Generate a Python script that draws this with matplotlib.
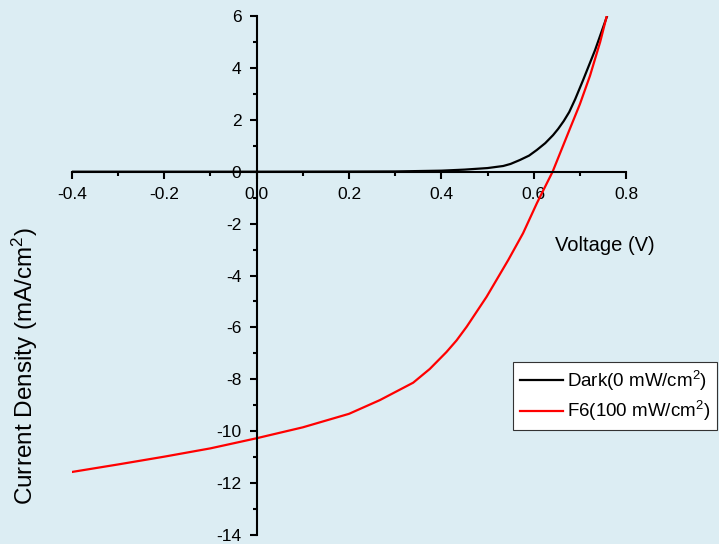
import numpy as np
import matplotlib
matplotlib.use("Agg")
import matplotlib.pyplot as plt
from matplotlib.ticker import MultipleLocator

plt.rcParams["font.family"] = ["Liberation Sans", "DejaVu Sans"]
plt.rcParams["mathtext.fontset"] = "custom"
plt.rcParams["mathtext.rm"] = "Liberation Sans"
plt.rcParams["mathtext.it"] = "Liberation Sans"

# Dark J-V curve
dark_v = [-0.4, -0.2, 0.0, 0.2, 0.3, 0.4, 0.45, 0.5, 0.534, 0.55, 0.57, 0.59,
          0.607, 0.625, 0.642, 0.653, 0.665, 0.677, 0.69, 0.707, 0.733, 0.759]
dark_j = [0.0, 0.0, 0.0, 0.005, 0.01, 0.04, 0.08, 0.14, 0.22, 0.3, 0.45, 0.62,
          0.84, 1.1, 1.41, 1.65, 1.95, 2.3, 2.8, 3.53, 4.69, 6.0]

# Illuminated curve (F6, 100 mW/cm2)
light_v = [-0.4, -0.3, -0.2, -0.1, 0.0, 0.1, 0.2, 0.267, 0.339, 0.375, 0.411, 0.433,
           0.455, 0.498, 0.545, 0.577, 0.607, 0.641, 0.679, 0.70, 0.722, 0.744, 0.759]
light_j = [-11.57, -11.28, -10.98, -10.66, -10.27, -9.85, -9.33, -8.8, -8.13, -7.6,
           -6.95, -6.5, -5.97, -4.82, -3.4, -2.37, -1.21, 0.0, 1.68, 2.6, 3.7, 5.0, 6.05]

bg = "#dcedf3"
fig = plt.figure(figsize=(7.19, 5.44), dpi=100, facecolor=bg)
ax = fig.add_axes([0.1001, 0.0165, 0.7706, 0.9541])
ax.set_facecolor(bg)

ax.plot(dark_v, dark_j, color="black", linewidth=1.6, label=r"Dark(0 mW/cm$^2$)")
ax.plot(light_v, light_j, color="red", linewidth=1.6, label=r"F6(100 mW/cm$^2$)")

ax.set_xlim(-0.4, 0.8)
ax.set_ylim(-14, 6)
ax.spines["left"].set_position(("data", 0))
ax.spines["bottom"].set_position(("data", 0))
ax.spines["top"].set_visible(False)
ax.spines["right"].set_visible(False)
for s in ("left", "bottom"):
    ax.spines[s].set_linewidth(1.5)

ax.xaxis.set_minor_locator(MultipleLocator(0.1))
ax.yaxis.set_minor_locator(MultipleLocator(1))
ax.set_xticks(np.arange(-0.4, 0.81, 0.2))
ax.set_xticklabels(["-0.4", "-0.2", "0.0", "0.2", "0.4", "0.6", "0.8"])
ax.set_yticks(np.arange(-14, 7, 2))
ax.set_yticklabels([str(v) for v in range(-14, 7, 2)])
ax.tick_params(which="major", direction="out", length=5, width=1.5, labelsize=12.5, pad=6)
ax.tick_params(which="minor", direction="out", length=3, width=1.5)

fig.text(0.841, 0.548, "Voltage (V)", fontsize=14.5, ha="center", va="center")
fig.text(0.034, 0.327, r"Current Density (mA/cm$^2$)", fontsize=17.5,
         rotation=90, ha="center", va="center")

leg = fig.legend(loc="upper left", bbox_to_anchor=(0.7135, 0.3346), fontsize=13.5,
                 fancybox=False, edgecolor="#333333", facecolor="white", framealpha=1,
                 handlelength=2.3, borderaxespad=0, borderpad=0.35, labelspacing=0.35,
                 handletextpad=0.25)
leg.get_frame().set_linewidth(0.8)

fig.savefig("out.png", dpi=100, facecolor=bg)
